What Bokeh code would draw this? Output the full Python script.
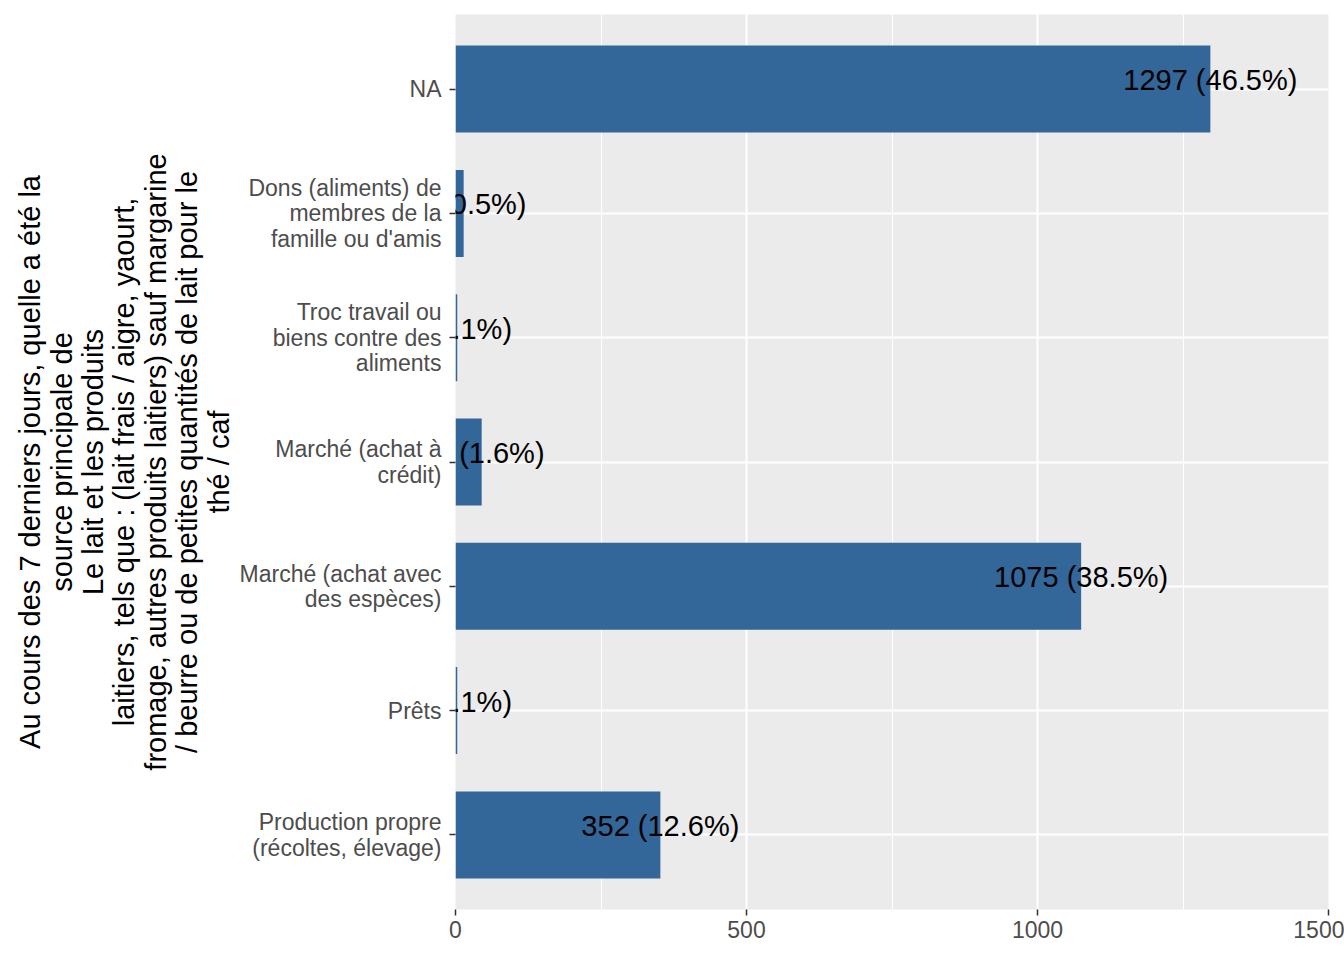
from bokeh.plotting import figure
from bokeh.models import Range1d, FixedTicker, ColumnDataSource
from bokeh.embed import file_html
from bokeh.resources import INLINE
from bokeh.core.properties import value

categories = [
    "NA",
    "Dons (aliments) de\nmembres de la\nfamille ou d'amis",
    "Troc travail ou\nbiens contre des\naliments",
    "Marché (achat à\ncrédit)",
    "Marché (achat avec\ndes espèces)",
    "Prêts",
    "Production propre\n(récoltes, élevage)",
]
counts = [1297, 14, 3, 45, 1075, 3, 352]
percents = ["46.5", "0.5", "0.1", "1.6", "38.5", "0.1", "12.6"]
x_ticks = [0, 500, 1000, 1500]
x_minor_ticks = [250, 750, 1250]
axis_title = ("Au cours des 7 derniers jours, quelle a été la\nsource principale de\n"
              "Le lait et les produits\nlaitiers, tels que : (lait frais / aigre, yaourt,\n"
              "fromage, autres produits laitiers) sauf margarine\n"
              "/ beurre ou de petites quantités de lait pour le\nthé / caf")

FONT = "Liberation Sans"
n = len(categories)
ypos = list(range(n, 0, -1))
labels = [f"{c} ({pc}%)" for c, pc in zip(counts, percents)]

src = ColumnDataSource(dict(y=ypos, count=counts, label=labels))

p = figure(width=1344, height=960, x_range=Range1d(0, 1500), y_range=Range1d(0.4, n + 0.6),
           output_backend="svg", toolbar_location=None,
           min_border_left=455, min_border_right=16, min_border_top=14, min_border_bottom=51)
p.background_fill_color = "#EBEBEB"
p.border_fill_color = "white"
p.outline_line_color = None

p.hbar(y="y", right="count", left=0, height=0.7, source=src, fill_color="#336699", line_color=None)
p.text(x="count", y="y", text="label", source=src, text_align="center", text_baseline="middle",
       text_font=value(FONT), text_font_size="29px", text_color="black", y_offset=-9)

# x axis
p.xaxis.ticker = FixedTicker(ticks=x_ticks, minor_ticks=x_minor_ticks)
p.xgrid.ticker = FixedTicker(ticks=x_ticks, minor_ticks=x_minor_ticks)
p.xgrid.grid_line_color = "white"
p.xgrid.grid_line_width = 2
p.xgrid.minor_grid_line_color = "white"
p.xgrid.minor_grid_line_width = 1

# y axis
p.yaxis.ticker = FixedTicker(ticks=ypos)
p.ygrid.ticker = FixedTicker(ticks=ypos)
p.ygrid.grid_line_color = "white"
p.ygrid.grid_line_width = 2
p.yaxis.major_label_overrides = {y: c for y, c in zip(ypos, categories)}
p.yaxis.axis_label = axis_title

for ax in (p.xaxis, p.yaxis):
    ax.axis_line_color = None
    ax.major_tick_line_color = "#333333"
    ax.major_tick_line_width = 1.5
    ax.major_tick_out = 6
    ax.major_tick_in = 0
    ax.minor_tick_line_color = None
    ax.major_label_text_font = FONT
    ax.major_label_text_font_size = "23px"
    ax.major_label_text_color = "#4D4D4D"
    ax.major_label_text_line_height = 0.97
    ax.axis_label_text_font = FONT
    ax.axis_label_text_font_size = "29px"
    ax.axis_label_text_font_style = "normal"
    ax.axis_label_text_color = "black"
    ax.axis_label_text_line_height = 0.98

p.xaxis.major_label_standoff = 5
p.yaxis.major_label_standoff = 8
p.yaxis.axis_label_standoff = 2

open("out.html", "w").write(file_html(p, INLINE))
